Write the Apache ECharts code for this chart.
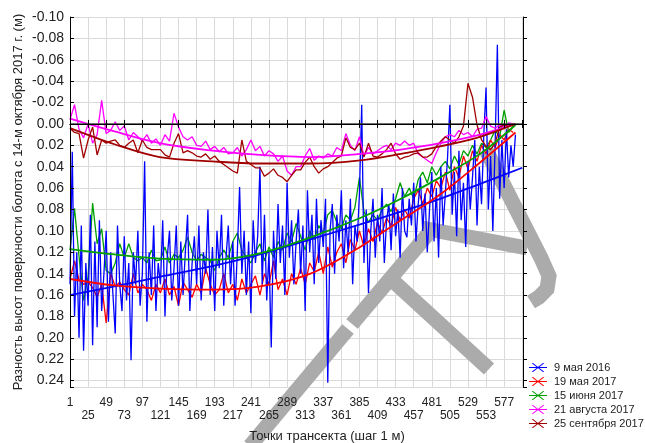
<!DOCTYPE html>
<html>
<head>
<meta charset="utf-8">
<script src="https://cdn.jsdelivr.net/npm/echarts@6/dist/echarts.min.js"></script>
<style>
  html, body { margin: 0; padding: 0; background: #fff; }
  #chart { width: 645px; height: 443px; }
</style>
</head>
<body>
<div id="chart"></div>
<script>
// transect points: blue every 3rd point, the other surveys every 6th point
var blueStep = 3;
var otherStep = 6;

var seriesNames = ['9 мая 2016', '19 мая 2017', '15 июня 2017', '21 августа 2017', '25 сентября 2017'];

// 9 мая 2016
var blueVals = [
	0.150, 0.026, 0.180, 0.120, 0.200, 0.095, 0.212, 0.130, 0.170, 0.085,
	0.207, 0.110, 0.190, 0.090, 0.175, 0.140, 0.100, 0.185, 0.120, 0.160,
	0.196, 0.095, 0.150, 0.175, 0.105, 0.165, 0.130, 0.221, 0.120, 0.150,
	0.100, 0.170, 0.140, 0.035, 0.185, 0.120, 0.160, 0.095, 0.175, 0.130,
	0.150, 0.090, 0.180, 0.125, 0.100, 0.165, 0.135, 0.095, 0.170, 0.110,
	0.160, 0.120, 0.085, 0.175, 0.130, 0.105, 0.150, 0.095, 0.165, 0.120,
	0.140, 0.080, 0.160, 0.115, 0.175, 0.100, 0.135, 0.085, 0.170, 0.125,
	0.095, 0.150, 0.110, 0.170, 0.120, 0.059, 0.140, 0.100, 0.160, 0.110,
	0.177, 0.090, 0.130, 0.105, 0.040, 0.150, 0.085, 0.165, 0.120, 0.209,
	0.100, 0.145, 0.075, 0.130, 0.095, 0.160, 0.055, 0.125, 0.090, 0.150,
	0.110, 0.080, 0.140, 0.095, 0.175, 0.062, 0.120, 0.085, 0.150, 0.070,
	0.130, 0.090, 0.115, 0.070, 0.242, 0.100, 0.075, 0.140, 0.085, 0.110,
	0.062, 0.135, 0.090, 0.120, 0.070, 0.150, 0.095, 0.110, 0.065, -0.018,
	0.130, 0.080, 0.158, 0.100, 0.070, 0.125, 0.085, 0.110, 0.060, 0.130,
	0.090, 0.075, 0.118, 0.065, 0.105, 0.080, 0.125, 0.060, 0.100, 0.106,
	0.070, 0.095, 0.055, 0.110, 0.075, 0.050, 0.100, 0.065, 0.120, 0.080,
	0.045, 0.110, 0.060, 0.125, 0.040, 0.095, 0.065, 0.030, -0.018, 0.085,
	0.045, 0.105, 0.025, 0.090, 0.055, 0.115, 0.035, 0.080, 0.050, 0.015,
	0.095, 0.040, 0.075, 0.010, -0.034, 0.080, 0.030, 0.100, 0.020, -0.074,
	0.070, 0.015, 0.060, 0.005, 0.050, 0.020, 0.040, 0.010
];

// 19 мая 2017
var redVals = [
	0.145, 0.128, 0.146, 0.150, 0.148, 0.153, 0.162, 0.150, 0.186, 0.140,
	0.152, 0.148, 0.155, 0.160, 0.140, 0.158, 0.150, 0.155, 0.165, 0.150,
	0.158, 0.145, 0.160, 0.152, 0.170, 0.148, 0.155, 0.162, 0.150, 0.158,
	0.135, 0.150, 0.160, 0.155, 0.140, 0.158, 0.150, 0.165, 0.145, 0.158,
	0.150, 0.142, 0.160, 0.140, 0.150, 0.128, 0.155, 0.145, 0.160, 0.140,
	0.150, 0.135, 0.150, 0.130, 0.138, 0.120, 0.140, 0.115, 0.134, 0.120,
	0.112, 0.130, 0.108, 0.118, 0.100, 0.115, 0.098, 0.110, 0.092, 0.102,
	0.088, 0.095, 0.078, 0.090, 0.080, 0.088, 0.070, 0.062, 0.075, 0.060,
	0.068, 0.053, 0.060, 0.045, 0.062, 0.040, 0.050, 0.030, 0.042, 0.025,
	0.035, 0.020, 0.028, 0.015, 0.022, 0.010, 0.015, 0.005, 0.008
];

// 15 июня 2017
var greenVals = [
	0.118, 0.079, 0.124, 0.165, 0.143, 0.074, 0.112, 0.098, 0.137, 0.140,
	0.130, 0.112, 0.125, 0.112, 0.125, 0.128, 0.125, 0.130, 0.118, 0.128,
	0.127, 0.115, 0.130, 0.122, 0.125, 0.118, 0.106, 0.120, 0.128, 0.122,
	0.125, 0.128, 0.137, 0.125, 0.118, 0.125, 0.110, 0.102, 0.118, 0.125,
	0.130, 0.120, 0.112, 0.128, 0.115, 0.125, 0.110, 0.118, 0.102, 0.110,
	0.093, 0.105, 0.118, 0.100, 0.108, 0.095, 0.102, 0.085, 0.081, 0.092,
	0.098, 0.085, 0.090, 0.078, 0.050, 0.082, 0.092, 0.085, 0.090, 0.080,
	0.075, 0.082, 0.070, 0.055, 0.068, 0.060, 0.070, 0.052, 0.045, 0.055,
	0.040, 0.048, 0.040, 0.035, 0.042, 0.030, 0.038, 0.025, 0.030, 0.020,
	0.028, 0.018, 0.022, 0.015, 0.006, 0.012, -0.013, 0.008, 0.002
];

// 21 августа 2017
var pinkVals = [
	-0.004, -0.018, 0.005, 0.013, 0.000, 0.018, 0.010, -0.022, 0.009, 0.006,
	-0.002, 0.006, 0.002, 0.015, 0.008, 0.012, 0.016, 0.010, 0.018, 0.014,
	0.020, 0.010, 0.016, -0.010, 0.003, 0.012, 0.015, 0.012, 0.020, 0.021,
	0.016, 0.024, 0.021, 0.026, 0.022, 0.028, 0.027, 0.022, 0.030, 0.024,
	0.015, 0.025, 0.021, 0.030, 0.025, 0.028, 0.035, 0.030, 0.044, 0.048,
	0.040, 0.040, 0.030, 0.023, 0.034, 0.030, 0.032, 0.028, 0.030, 0.022,
	0.025, 0.009, 0.020, 0.025, 0.012, 0.030, 0.022, 0.028, 0.025, 0.022,
	0.020, 0.024, 0.018, 0.020, 0.016, 0.020, 0.018, 0.028, 0.031, 0.034,
	0.037, 0.027, 0.018, 0.012, 0.010, 0.012, 0.006, 0.010, 0.008, 0.012,
	0.005, 0.004, -0.007, 0.002, 0.004, 0.001, 0.003, -0.001, 0.000
];

// 25 сентября 2017
var brownVals = [
	0.004, 0.008, 0.009, 0.032, 0.015, 0.003, 0.029, 0.015, 0.018, 0.016,
	0.015, 0.020, 0.022, 0.018, 0.015, 0.027, 0.015, 0.022, 0.024, 0.024,
	0.024, 0.029, 0.031, 0.018, 0.009, 0.027, 0.025, 0.027, 0.030, 0.031,
	0.028, 0.033, 0.030, 0.035, 0.038, 0.041, 0.044, 0.046, 0.015, 0.035,
	0.038, 0.041, 0.041, 0.049, 0.046, 0.042, 0.048, 0.050, 0.054, 0.048,
	0.043, 0.043, 0.036, 0.031, 0.040, 0.046, 0.042, 0.040, 0.036, 0.032,
	0.030, 0.013, 0.022, 0.024, 0.018, 0.031, 0.018, 0.030, 0.031, 0.028,
	0.024, 0.018, 0.028, 0.033, 0.031, 0.030, 0.028, 0.027, 0.031, 0.031,
	0.028, 0.021, 0.016, 0.012, 0.015, 0.018, 0.012, 0.002, -0.038, -0.025,
	0.001, 0.015, 0.021, 0.024, 0.018, 0.003, 0.001, 0.002, 0.000
];

// trend curves
var fitX = [1, 60, 120, 190, 253, 320, 386, 440, 492, 545, 592];
var blueFitX = [1, 60, 120, 190, 253, 320, 386, 440, 492, 545, 601];
var blueFit = [0.160, 0.152, 0.143, 0.133, 0.122, 0.108, 0.094, 0.082, 0.070, 0.056, 0.041];
var redFit = [0.145, 0.151, 0.154, 0.155, 0.152, 0.140, 0.115, 0.090, 0.066, 0.036, 0.008];
var greenFit = [0.117, 0.122, 0.126, 0.127, 0.121, 0.106, 0.088, 0.070, 0.050, 0.028, 0.001];
var pinkFit = [-0.005, 0.007, 0.018, 0.025, 0.029, 0.031, 0.028, 0.024, 0.018, 0.010, 0.000];
var brownFit = [0.004, 0.019, 0.031, 0.035, 0.037, 0.037, 0.034, 0.028, 0.021, 0.012, 0.000];

var colors = ['#0000ff', '#ff0000', '#00a000', '#ff00ff', '#a00000'];

var xMin = 1, xMax = 602, xInterval = 24;
var yMin = -0.10, yMax = 0.246, yInterval = 0.02;

var FONT = '"Liberation Sans", Arial, sans-serif';

function toPairs(vals, step) {
	return vals.map(function (v, i) {
		return [1 + i * step, v];
	});
}
function zipPairs(xs, ys) {
	return xs.map(function (x, i) {
		return [x, ys[i]];
	});
}

function yLabel(v) {
	var k = Math.round(v / yInterval);
	if (Math.abs(v - k * yInterval) > 1e-6) return '';
	var r = k * yInterval;
	if (Math.abs(r) < 1e-9) return '0.00';
	return r.toFixed(2);
}

// staggered tick labels on two rows
function xLabel(v, index) {
	if ((v - xMin) % xInterval !== 0 || v > 590) return '';
	return index % 2 === 0 ? String(v) : '\n' + v;
}

var myChart = echarts.init(document.getElementById('chart'), null, { renderer: 'canvas' });

// legend icon: a short line with a cross on it
var legendIcon = 'path://M0,4.4L20,4.4L20,5.6L0,5.6Z' +
	'M3,0.2L4.4,0L17,9.8L15.6,10Z' +
	'M3,9.8L15.6,0L17,0.2L4.4,10Z';

function dataSeries(idx, vals, step) {
	return {
		name: seriesNames[idx],
		type: 'line',
		data: toPairs(vals, step),
		showSymbol: false,
		symbol: 'none',
		lineStyle: { width: 1.3, color: colors[idx] },
		itemStyle: { color: colors[idx] },
		z: 3
	};
}
function fitSeries(idx, xs, ys) {
	return {
		name: seriesNames[idx] + ' fit',
		type: 'line',
		data: zipPairs(xs, ys),
		smooth: 0.35,
		showSymbol: false,
		symbol: 'none',
		lineStyle: { width: 1.8, color: colors[idx] },
		itemStyle: { color: colors[idx] },
		z: 4
	};
}

var blueS = dataSeries(0, blueVals, blueStep);
blueS.markLine = {
	silent: true,
	symbol: 'none',
	label: { show: false },
	lineStyle: { color: '#404040', width: 1.6, type: 'solid' },
	data: [{ yAxis: 0 }]
};

var gray = '#ababab';
var wm = { stroke: gray, lineWidth: 15, fill: null, lineCap: 'butt', lineJoin: 'miter' };

var option = {
	animation: false,
	backgroundColor: '#fff',
	textStyle: { fontFamily: FONT },
	grid: { left: 70, right: 122, top: 17, bottom: 56, containLabel: false },
	legend: {
		data: seriesNames,
		orient: 'vertical',
		left: 529,
		top: 362,
		padding: 0,
		itemGap: 3,
		itemWidth: 18,
		itemHeight: 10,
		icon: legendIcon,
		textStyle: { fontFamily: FONT, fontSize: 11, color: '#222', padding: [0, 0, 0, 2] }
	},
	xAxis: [{
		type: 'value', position: 'bottom', min: xMin, max: xMax, interval: xInterval, z: 5,
		axisLine: { show: true, lineStyle: { color: '#000', width: 1 } },
		axisTick: { show: true, inside: true, length: 4, lineStyle: { color: '#000' } },
		axisLabel: {
			formatter: xLabel, margin: 9, fontSize: 12, color: '#222', lineHeight: 13,
			fontFamily: FONT, showMaxLabel: true, showMinLabel: true
		},
		splitLine: { show: false }
	}, {
		type: 'value', position: 'top', min: xMin, max: xMax, interval: xInterval, z: 5,
		axisLine: { show: true, lineStyle: { color: '#000', width: 1 } },
		axisTick: { show: true, inside: true, length: 4, lineStyle: { color: '#000' } },
		axisLabel: { show: false },
		splitLine: { show: false }
	}, {
		type: 'value', position: 'bottom', min: xMin, max: xMax, interval: xInterval, z: 0,
		axisLine: { show: false }, axisTick: { show: false }, axisLabel: { show: false },
		splitLine: { show: true, lineStyle: { color: '#dadada', width: 1 } }
	}],
	yAxis: [{
		type: 'value', position: 'left', inverse: true, min: yMin, max: yMax, interval: yInterval, z: 5,
		axisLine: { show: true, lineStyle: { color: '#000', width: 1 } },
		axisTick: { show: true, inside: true, length: 4, lineStyle: { color: '#000' } },
		axisLabel: { formatter: yLabel, margin: 6, fontSize: 14, color: '#222', fontFamily: FONT },
		splitLine: { show: false }
	}, {
		type: 'value', position: 'right', inverse: true, min: yMin, max: yMax, interval: yInterval, z: 5,
		axisLine: { show: true, lineStyle: { color: '#000', width: 1 } },
		axisTick: { show: true, inside: false, length: 4, lineStyle: { color: '#000' } },
		axisLabel: { show: false },
		splitLine: { show: false }
	}, {
		type: 'value', position: 'left', inverse: true, min: yMin, max: yMax, interval: yInterval, z: 0,
		axisLine: { show: false }, axisTick: { show: false }, axisLabel: { show: false },
		splitLine: { show: true, lineStyle: { color: '#dadada', width: 1 } }
	}],
	graphic: [
		// watermark strokes, under the data
		{ type: 'polyline', z: 1, silent: true, shape: { points: [[250, 446], [348, 329]] }, style: wm },
		{ type: 'polyline', z: 1, silent: true, shape: { points: [[352, 324], [428, 234]] }, style: wm },
		{ type: 'polyline', z: 1, silent: true, shape: { points: [[392, 280], [489, 369]] }, style: wm },
		{ type: 'polyline', z: 1, silent: true, shape: { points: [[422, 228], [527, 248]] }, style: wm },
		{ type: 'polyline', z: 1, silent: true,
			shape: { points: [[486, 150], [541, 258], [549, 276], [547, 289], [539, 297], [531, 302]] },
			style: wm },
		// axis titles
		{
			type: 'text', z: 6, x: 18, y: 202, rotation: Math.PI / 2,
			style: {
				text: 'Разность высот поверхности болота с 14-м октября 2017 г. (м)',
				font: '13px ' + FONT, fill: '#222', align: 'center', verticalAlign: 'middle'
			}
		},
		{
			type: 'text', z: 6, x: 327, y: 436,
			style: {
				text: 'Точки трансекта (шаг 1 м)',
				font: '13px ' + FONT, fill: '#222', align: 'center', verticalAlign: 'middle'
			}
		}
	],
	series: [
		dataSeries(2, greenVals, otherStep),
		dataSeries(1, redVals, otherStep),
		blueS,
		dataSeries(3, pinkVals, otherStep),
		dataSeries(4, brownVals, otherStep),
		fitSeries(0, blueFitX, blueFit),
		fitSeries(2, fitX, greenFit),
		fitSeries(1, fitX, redFit),
		fitSeries(3, fitX, pinkFit),
		fitSeries(4, fitX, brownFit)
	]
};

myChart.setOption(option);
</script>
</body>
</html>
